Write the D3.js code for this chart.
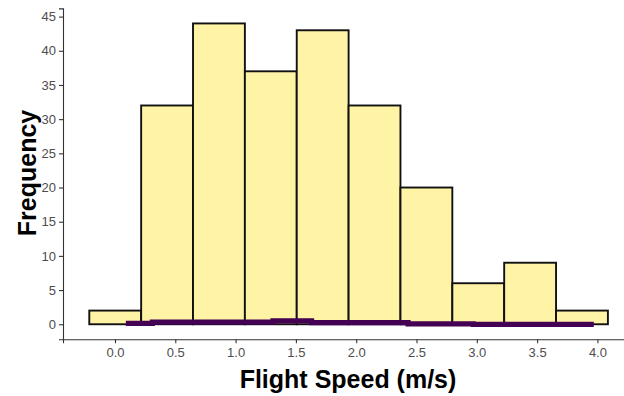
<!DOCTYPE html>
<html>
<head>
<meta charset="utf-8">
<script src="https://cdn.jsdelivr.net/npm/d3@7"></script>
<style>
  body { margin: 0; background: #fff; }
  svg { display: block; font-family: "Liberation Sans", Arial, sans-serif; }
</style>
</head>
<body>
<div class="container"></div>
<script>
const width = 624;
const height = 396;

// histogram bins (flight speed, m/s) and counts
const binEdges = [-0.213, 0.217, 0.647, 1.077, 1.507, 1.937, 2.367, 2.797, 3.227, 3.657, 4.087];
const counts = [2, 32, 44, 37, 43, 32, 20, 6, 9, 2];

// thick purple line near zero
const lineX = [0.09, 0.31, 1.31, 1.63, 2.43, 2.97, 3.97];
const lineY = [0.12, 0.3, 0.5, 0.25, 0.05, -0.02, -0.02];

const xTicks = [0, 0.5, 1, 1.5, 2, 2.5, 3, 3.5, 4];
const yTicks = [0, 5, 10, 15, 20, 25, 30, 35, 40, 45];

const barFill = '#fff3a6';
const lineColor = '#440154';
const tickColor = '#4d4d4d';

const x = d3.scaleLinear().domain([-0.431, 4.3]).range([63, 633.6]);
const y = d3.scaleLinear().domain([-2.2, 46.2]).range([339.3, 8.4]);

const svg = d3.select('.container')
    .append('svg')
    .attr('width', width)
    .attr('height', height);

const bins = counts.map((c, i) => ({ x0: binEdges[i], x1: binEdges[i + 1], count: c }));

svg.append('g')
    .selectAll('rect')
    .data(bins)
    .enter()
    .append('rect')
    .attr('x', d => x(d.x0))
    .attr('y', d => y(d.count))
    .attr('width', d => x(d.x1) - x(d.x0))
    .attr('height', d => y(0) - y(d.count))
    .attr('fill', barFill)
    .attr('stroke', '#111')
    .attr('stroke-width', 1.9);

const lineData = lineX.map((v, i) => [v, lineY[i]]);
svg.append('path')
    .datum(lineData)
    .attr('fill', 'none')
    .attr('stroke', lineColor)
    .attr('stroke-width', 5.2)
    .attr('d', d3.line()
        .x(d => x(d[0]))
        .y(d => y(d[1]))
        .curve(d3.curveStepAfter));

// axes
const xAxis = svg.append('g')
    .attr('transform', `translate(0,${y.range()[0]})`)
    .call(d3.axisBottom(x).tickValues(xTicks).tickFormat(d3.format('.1f')).tickSizeOuter(0).tickSize(4).tickPadding(4));
const yAxis = svg.append('g')
    .attr('transform', `translate(${x.range()[0]},0)`)
    .call(d3.axisLeft(y).tickValues(yTicks).tickSizeOuter(0).tickSize(4).tickPadding(3));

[xAxis, yAxis].forEach(g => {
    g.select('.domain').attr('stroke', '#333').attr('stroke-width', 1.1);
    g.selectAll('.tick line').attr('stroke', '#333').attr('stroke-width', 1.1);
    g.selectAll('.tick text').attr('fill', tickColor).attr('font-size', 13)
        .attr('font-family', '"Liberation Sans", Arial, sans-serif');
});

svg.append('text')
    .attr('x', 348)
    .attr('y', 388)
    .attr('text-anchor', 'middle')
    .attr('font-size', 25)
    .attr('font-weight', 'bold')
    .attr('fill', '#000')
    .text('Flight Speed (m/s)');

svg.append('text')
    .attr('transform', 'translate(36,173) rotate(-90)')
    .attr('text-anchor', 'middle')
    .attr('font-size', 25)
    .attr('font-weight', 'bold')
    .attr('fill', '#000')
    .text('Frequency');
</script>
</body>
</html>
